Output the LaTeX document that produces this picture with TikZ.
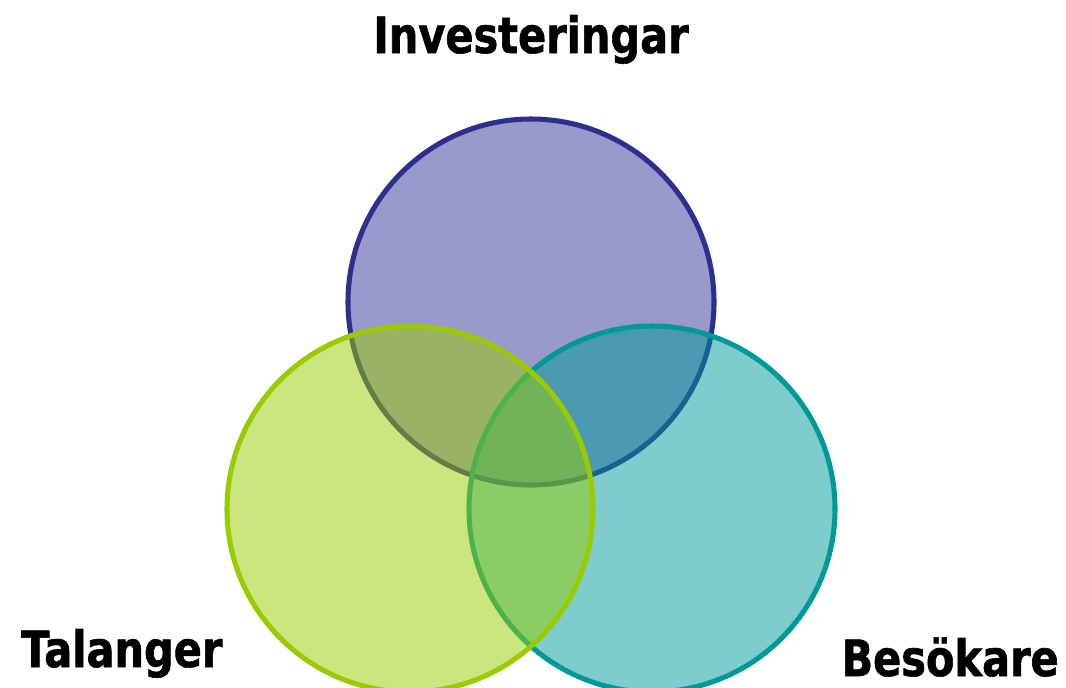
\documentclass[tikz,border=0pt]{standalone}
\usepackage{fontspec}
\newfontfamily\labfont{DejaVu Sans}[FakeStretch=0.83, BoldFeatures={FakeBold=1.2}]
\definecolor{invC}{HTML}{333399}
\definecolor{invS}{HTML}{2E2E8E}
\definecolor{talC}{HTML}{99CC00}
\definecolor{besC}{HTML}{009999}
\tikzset{
  venn/.style={circle, minimum size=366*0.75pt, inner sep=0pt, line width=3.8pt, fill opacity=0.5, draw opacity=1},
  lab/.style={font=\labfont\bfseries\fontsize{37.5}{40}\selectfont, text=black, inner sep=0pt}
}
\begin{document}
\begin{tikzpicture}[x=0.75pt, y=-0.75pt]
\useasboundingbox (0,0) rectangle (1066,687);
\clip (0,0) rectangle (1066,687);
\node[venn, draw=invS, fill=invC] (inv) at (531,302) {};
\node[venn, draw=besC, fill=besC] (bes) at (652,509) {};
\node[venn, draw=talC, fill=talC] (tal) at (410,509) {};
\node[lab, anchor=base] (tinv) at (531,53) {Investeringar};
\node[lab, anchor=base west] (ttal) at (21,667) {Talanger};
\node[lab, anchor=base east] (tbes) at (1059,676) {Besökare};
\end{tikzpicture}
\end{document}
